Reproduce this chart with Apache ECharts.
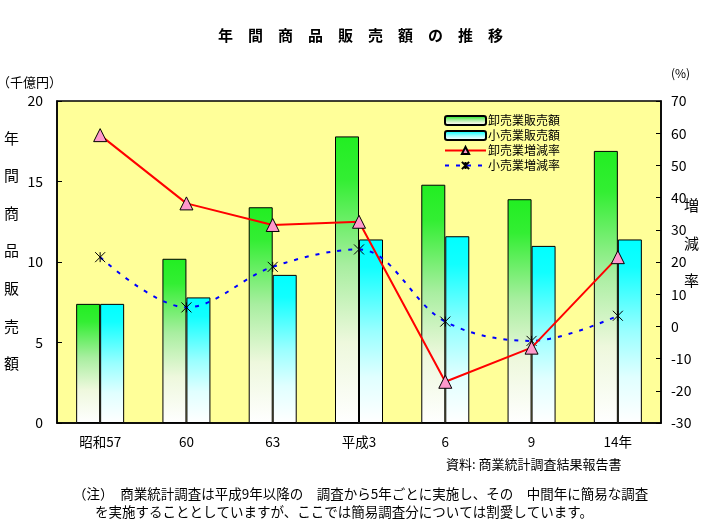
<!DOCTYPE html>
<html><head><meta charset="utf-8">
<script src="https://cdn.jsdelivr.net/npm/echarts@6/dist/echarts.min.js"></script>
<style>html,body{margin:0;padding:0;background:#fff}#c{width:721px;height:523px}</style>
</head><body><div id="c"></div>
<script>
var categories = ['昭和57', '60', '63', '平成3', '6', '9', '14年'];
var wholesaleSales = [7.4, 10.2, 13.4, 17.8, 14.8, 13.9, 16.9];
var retailSales = [7.4, 7.8, 9.2, 11.4, 11.6, 11.0, 11.4];
var wholesaleRate = [59.4, 38.2, 31.5, 32.5, -17.2, -6.6, 21.5];
var retailRate = [21.5, 5.9, 18.5, 23.9, 1.5, -4.5, 3.3];
var seriesNames = ['卸売業販売額', '小売業販売額', '卸売業増減率', '小売業増減率'];

var FONT = '"Noto Sans CJK JP", "Noto Sans", sans-serif';
var chart = echarts.init(document.getElementById('c'), null, {renderer: 'canvas'});

function grad(stops) {
  return new echarts.graphic.LinearGradient(0, 0, 0, 1, stops);
}
var greenGrad = grad([
  {offset: 0, color: '#22EE22'}, {offset: 0.15, color: '#33EE33'},
  {offset: 0.45, color: '#A8EEA0'}, {offset: 0.72, color: '#EEF8DD'}, {offset: 1, color: '#FFFFFF'}]);
var cyanGrad = grad([
  {offset: 0, color: '#00FFFF'}, {offset: 0.15, color: '#11FFFF'},
  {offset: 0.5, color: '#99FFFF'}, {offset: 0.75, color: '#E0FFFF'}, {offset: 1, color: '#FFFFFF'}]);

var option = {
  animation: false,
  backgroundColor: '#ffffff',
  textStyle: {fontFamily: FONT},
  title: {
    text: '年　間　商　品　販　売　額　の　推　移',
    left: 'center', top: 23,
    textStyle: {fontSize: 15, fontWeight: 'bold', color: '#000', fontFamily: FONT}
  },
  grid: {
    left: 57, right: 60, top: 101, bottom: 100,
    containLabel: false, outerBoundsMode: 'none',
    show: true, backgroundColor: '#FFFF99', borderColor: '#000', borderWidth: 1.5
  },
  legend: {
    orient: 'vertical', left: 439, top: 109,
    itemWidth: 41, itemHeight: 9, itemGap: 2,
    data: seriesNames,
    textStyle: {fontSize: 12, color: '#000', fontFamily: FONT, lineHeight: 13, padding: [0, 0, 0, -3]}
  },
  xAxis: {
    type: 'category', data: categories,
    axisLine: {lineStyle: {color: '#000', width: 1.5}},
    axisTick: {inside: true, length: 5, lineStyle: {color: '#000'}},
    axisLabel: {color: '#000', fontSize: 13.5, margin: 12, fontFamily: FONT}
  },
  yAxis: [{
    type: 'value', min: 0, max: 20, interval: 5,
    name: '（千億円）', nameLocation: 'end', nameGap: 12,
    nameTextStyle: {color: '#000', fontSize: 13, align: 'right', padding: [0, -5, 0, 0], fontFamily: FONT},
    axisLine: {show: true, lineStyle: {color: '#000', width: 1.5}},
    axisTick: {show: true, inside: true, length: 5, lineStyle: {color: '#000'}},
    axisLabel: {color: '#000', fontSize: 14, margin: 14, fontFamily: FONT},
    splitLine: {show: false}
  }, {
    type: 'value', min: -30, max: 70, interval: 10,
    name: '(%)', nameLocation: 'end', nameGap: 22,
    nameTextStyle: {color: '#000', fontSize: 12, align: 'left', padding: [0, 0, 0, 10], fontFamily: FONT},
    axisLine: {show: true, lineStyle: {color: '#000', width: 1.5}},
    axisTick: {show: true, inside: true, length: 5, lineStyle: {color: '#000'}},
    axisLabel: {color: '#000', fontSize: 14, margin: 10, fontFamily: FONT},
    splitLine: {show: false}
  }],
  series: [{
    name: seriesNames[0], type: 'bar', yAxisIndex: 0, data: wholesaleSales,
    barWidth: 24, barGap: '0%',
    itemStyle: {color: greenGrad, borderColor: '#000', borderWidth: 1}
  }, {
    name: seriesNames[1], type: 'bar', yAxisIndex: 0, data: retailSales,
    barWidth: 24, barGap: '0%',
    itemStyle: {color: cyanGrad, borderColor: '#000', borderWidth: 1}
  }, {
    name: seriesNames[2], type: 'line', yAxisIndex: 1, data: wholesaleRate,
    symbol: 'triangle', symbolSize: 13,
    lineStyle: {color: '#FF0000', width: 2},
    itemStyle: {color: '#FF99CC', borderColor: '#000', borderWidth: 1},
    z: 5
  }, {
    name: seriesNames[3], type: 'line', yAxisIndex: 1, data: retailRate,
    smooth: 0.35,
    symbol: 'path://M0 0L10 10M10 0L0 10M5 0L5 10', symbolSize: 10,
    lineStyle: {color: '#0000FF', width: 2, type: [4, 7]},
    itemStyle: {color: 'rgba(0,0,0,0)', borderColor: '#000', borderWidth: 1},
    z: 4
  }],
  graphic: [{
    type: 'text', left: 4, top: 119,
    style: {text: '年\n間\n商\n品\n販\n売\n額', font: '15px ' + FONT, fill: '#000', lineHeight: 37.6}
  }, {
    type: 'text', left: 684, top: 187,
    style: {text: '増\n減\n率', font: '15px ' + FONT, fill: '#000', lineHeight: 37.5}
  }, {
    type: 'text', left: 446, top: 458,
    style: {text: '資料: 商業統計調査結果報告書', font: '13px ' + FONT, fill: '#000'}
  }, {
    type: 'text', left: 73, top: 487,
    style: {text: '（注）　商業統計調査は平成9年以降の　調査から5年ごとに実施し、その　中間年に簡易な調査', font: '13.5px ' + FONT, fill: '#000'}
  }, {
    type: 'text', left: 95, top: 505,
    style: {text: 'を実施することとしていますが、ここでは簡易調査分については割愛しています。', font: '13.5px ' + FONT, fill: '#000'}
  }]
};
chart.setOption(option);
</script>
</body></html>
